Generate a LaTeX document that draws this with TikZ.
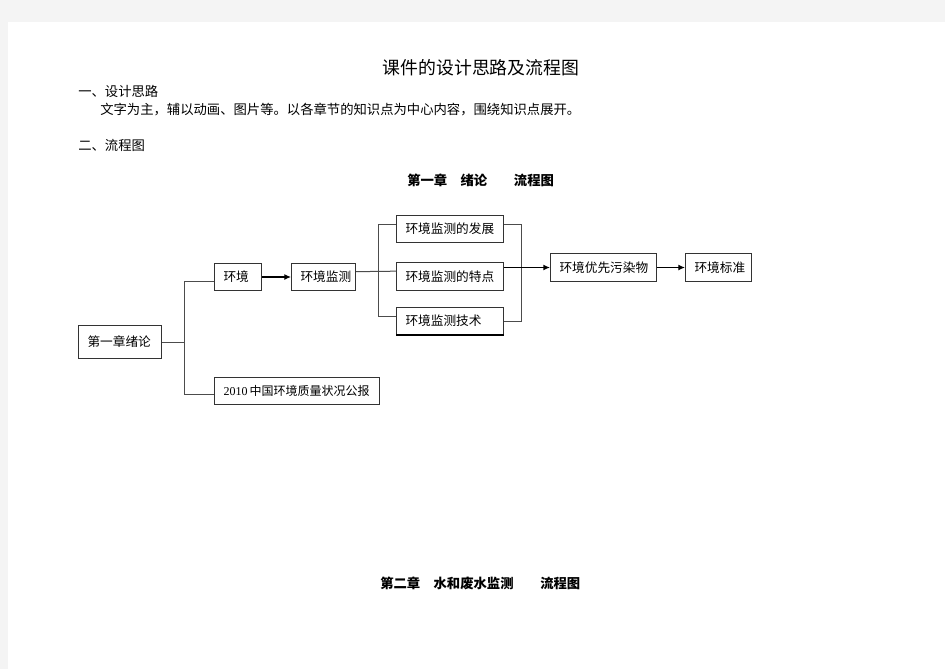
\documentclass[tikz,border=0pt]{standalone}
\usepackage{fontspec}
\setmainfont{Noto Sans CJK SC}
\newfontfamily\numfont{Liberation Serif}
\usetikzlibrary{positioning}
\usetikzlibrary{arrows.meta}
\definecolor{pagegray}{HTML}{F4F4F4}

\begin{document}
\begin{tikzpicture}[x=0.75pt,y=-0.75pt,
  box/.style={draw=black!80, line width=0.75pt, anchor=north west, inner xsep=6.75pt,
    inner ysep=0pt, align=left, minimum height=20.25pt, font=\fontsize{9.5}{11}\selectfont},
  line/.style={draw=black!70, line width=0.75pt},
  arr/.style={draw=black, line width=0.9pt, -{Latex[length=5pt,width=4.5pt]}},
  txt/.style={anchor=west, inner sep=0pt, font=\fontsize{10}{12}\selectfont},
  head/.style={txt, font=\fontsize{10}{12}\selectfont\bfseries}]
\useasboundingbox (0,0) rectangle (945,669);
\fill[pagegray] (0,0) rectangle (945,669);
\fill[white] (8,22) rectangle (945,669);

% page text
\node[font=\fontsize{13.4}{16}\selectfont] (title) at (481,68) {课件的设计思路及流程图};
\node[txt] (idea) at (78,91) {一、设计思路};
\node[txt] (ideatext) at (100,110) {文字为主，辅以动画、图片等。以各章节的知识点为中心内容，围绕知识点展开。};
\node[txt] (chart) at (78,145) {二、流程图};
\node[head] (chone) at (407,180) {第一章　绪论　　流程图};
\node[head] (chtwo) at (380,583) {第二章　水和废水监测　　流程图};

% boxes
\node[box, text width=48.75pt, minimum height=24.75pt] (intro) at (78,325) {第一章绪论};
\node[box, text width=21.75pt] (env) at (214,263) {环境};
\node[box, text width=34.5pt] (mon) at (291,263) {环境监测};
\node[box, text width=110.25pt, font=\fontsize{9}{11}\selectfont] (report) at (214,377)
  {\mbox{{\numfont 2010}\,中国环境质量状况公报}};
\node[box, text width=66.75pt] (develop) at (396,215) {环境监测的发展};
\node[box, text width=66.75pt, minimum height=21pt] (feature) at (396,262) {环境监测的特点};
\node[box, text width=66.75pt] (tech) at (396,307) {环境监测技术};
\node[box, text width=66pt, minimum height=21pt] (priority) at (550,253) {环境优先污染物};
\node[box, text width=36pt, minimum height=21pt] (standard) at (685,253) {环境标准};
\draw[line width=1.3pt] (tech.south west) -- (tech.south east);

% connectors
\draw[line] (intro.east) -- ++(17.25pt,0);
\draw[line] ([yshift=-3pt]env.west) -| ([xshift=-22.5pt,yshift=-2.6pt]report.west) -- ([yshift=-2.6pt]report.west);
\draw[arr] (env) -- (mon);
\draw[line] ([yshift=4pt]mon.east) -- ([yshift=4pt]feature.west);
\draw[line] ([yshift=3.4pt]develop.west) -| ([xshift=-13.5pt,yshift=3.4pt]tech.west) -- ([yshift=3.4pt]tech.west);
\draw[line] ([yshift=3.4pt]develop.east) -| ([xshift=12.75pt]tech.east) -- (tech.east);
\draw[arr, line width=1.1pt] (feature.east |- priority.west) -- (priority.west);
\draw[arr] (priority) -- (standard);
\end{tikzpicture}
\end{document}
